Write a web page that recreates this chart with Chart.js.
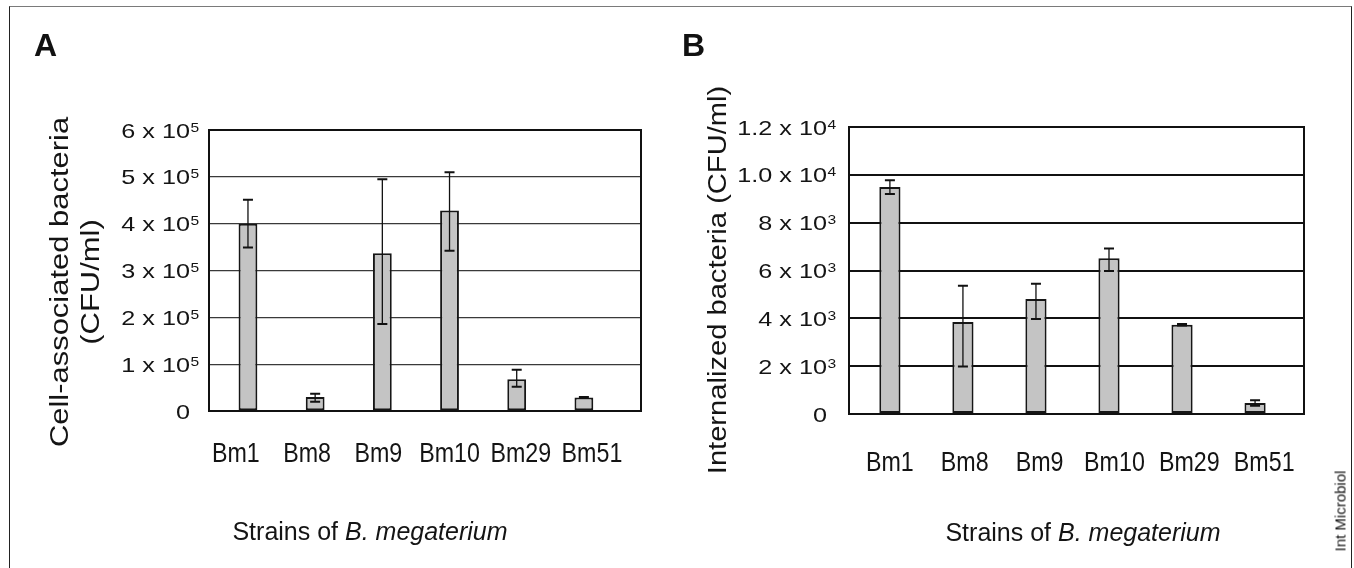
<!DOCTYPE html>
<html lang="en">
<head>
<meta charset="UTF-8" />
<title>Strains of B. megaterium</title>
<script src="https://cdn.jsdelivr.net/npm/chart.js@4.4.1/dist/chart.umd.min.js"></script>
<style>
  html, body { margin: 0; padding: 0; background: #fff; }
  body {
    width: 1354px; height: 568px; position: relative; overflow: hidden;
    font-family: "Liberation Sans", Arial, sans-serif; color: #141414;
  }
  .frame {
    position: absolute; left: 9px; top: 6px; width: 1341px; height: 580px;
    border-top: 1px solid #7a7a7a; border-left: 1px solid #222; border-right: 1px solid #222;
  }
  canvas { position: absolute; top: 0; }
  #chartA { left: 0; }
  #chartB { left: 677px; }
  .letter { position: absolute; font: 900 32px "Liberation Sans", Arial, sans-serif; color: #111; }
  .ytitle {
    position: absolute; white-space: nowrap; text-align: center;
    font-size: 26px; line-height: 31px;
  }
  .ytitle.a { transform: translate(-50%, -50%) rotate(-90deg) scaleX(1.19); }
  .ytitle.b { transform: translate(-50%, -50%) rotate(-90deg) scaleX(1.12); }
  .xtitle {
    position: absolute; white-space: nowrap; font-size: 25px;
    transform: translate(-50%, -50%);
  }
  .credit {
    position: absolute; white-space: nowrap; font-size: 15px;
    transform: translate(-50%, -50%) rotate(-90deg);
  }
</style>
</head>
<body>
<div class="frame"></div>
<canvas id="chartA" width="677" height="568"></canvas>
<canvas id="chartB" width="677" height="568"></canvas>

<div class="letter" style="left:34px; top:27px;">A</div>
<div class="letter" style="left:682px; top:27px;">B</div>

<div class="ytitle a" style="left:75px; top:282px;">Cell-associated bacteria<br>(CFU/ml)</div>
<div class="ytitle b" style="left:717px; top:280px;">Internalized bacteria (CFU/ml)</div>

<div class="xtitle" style="left:370px; top:531px;">Strains of <i>B. megaterium</i></div>
<div class="xtitle" style="left:1083px; top:532px;">Strains of <i>B. megaterium</i></div>

<div class="credit" style="left:1340px; top:511px;">Int Microbiol</div>

<script>
// panel A: cell-associated bacteria (CFU/ml)
const strainsA = ['Bm1', 'Bm8', 'Bm9', 'Bm10', 'Bm29', 'Bm51'];
const meansA = [400000, 30000, 337000, 428000, 68000, 29000];
const errUpA = [51000, 7000, 158000, 82000, 20000, 1000];
const errDownA = [51000, 10000, 151000, 86000, 16000, 1000];
const yTicksA = ['0', '1 x 10^5', '2 x 10^5', '3 x 10^5', '4 x 10^5', '5 x 10^5', '6 x 10^5'];

// panel B: internalized bacteria (CFU/ml)
const strainsB = ['Bm1', 'Bm8', 'Bm9', 'Bm10', 'Bm29', 'Bm51'];
const meansB = [9490, 3850, 4810, 6510, 3730, 460];
const errUpB = [280, 1510, 640, 410, 30, 110];
const errDownB = [290, 1860, 840, 530, 30, 110];
const yTicksB = ['0', '2 x 10^3', '4 x 10^3', '6 x 10^3', '8 x 10^3', '1.0 x 10^4', '1.2 x 10^4'];

// error bars, frame, y tick labels with superscripts, strain labels
const panelDecor = {
  id: 'panelDecor',
  afterDatasetsDraw(chart, args, o) {
    const { ctx, chartArea: a, scales: { x, y } } = chart;
    ctx.save();
    ctx.strokeStyle = '#111';
    o.means.forEach((m, i) => {
      const px = x.getPixelForValue(i);
      const yt = y.getPixelForValue(m + o.up[i]);
      const yb = y.getPixelForValue(m - o.down[i]);
      ctx.lineWidth = 1.3;
      ctx.beginPath();
      ctx.moveTo(px, yt); ctx.lineTo(px, yb);
      ctx.stroke();
      ctx.lineWidth = 2;
      ctx.beginPath();
      ctx.moveTo(px - 5, yt); ctx.lineTo(px + 5, yt);
      ctx.moveTo(px - 5, yb); ctx.lineTo(px + 5, yb);
      ctx.stroke();
    });

    ctx.lineWidth = 2;
    ctx.strokeRect(a.left, a.top, a.width, a.height);

    ctx.fillStyle = '#141414';
    y.ticks.forEach((t, i) => {
      const [base, sup] = o.yLabels[i].split('^');
      const py = y.getPixelForValue(t.value);
      ctx.save();
      ctx.translate(a.left - o.tickGap, py);
      ctx.scale(1.2, 1);
      ctx.textBaseline = 'alphabetic';
      ctx.textAlign = 'right';
      ctx.font = '21px "Liberation Sans", Arial, sans-serif';
      ctx.fillText(base, 0, 7.5);
      if (sup) {
        ctx.textAlign = 'left';
        ctx.font = '13px "Liberation Sans", Arial, sans-serif';
        ctx.fillText(sup, 0.5, 1.5);
      }
      ctx.restore();
    });

    // strain names sit a little off the bar centres in the original figure
    o.strains.forEach((s, i) => {
      ctx.save();
      ctx.translate(x.getPixelForValue(i * o.labelSpread + o.labelShift), a.bottom + o.labelDrop);
      ctx.scale(0.83, 1);
      ctx.textAlign = 'center';
      ctx.textBaseline = 'alphabetic';
      ctx.font = '28px "Liberation Sans", Arial, sans-serif';
      ctx.fillText(s, 0, 10);
      ctx.restore();
    });
    ctx.restore();
  }
};

function makePanel(id, strains, means, up, down, yLabels, cfg) {
  return new Chart(document.getElementById(id), {
    type: 'bar',
    data: {
      datasets: [{
        data: means.map((v, i) => ({ x: i, y: v })),
        backgroundColor: '#c4c4c4',
        borderColor: '#161616',
        borderWidth: 2,
        borderSkipped: false,
        categoryPercentage: 1,
        barPercentage: cfg.barPct
      }]
    },
    options: {
      responsive: false,
      animation: false,
      devicePixelRatio: 1,
      layout: { padding: cfg.padding },
      scales: {
        x: {
          type: 'linear',
          offset: false,
          min: cfg.xMin,
          max: cfg.xMax,
          afterBuildTicks: (s) => { s.ticks = strains.map((_, i) => ({ value: i })); },
          grid: { display: false, drawTicks: false },
          border: { display: false },
          ticks: { display: false }
        },
        y: {
          min: 0,
          max: cfg.yMax,
          ticks: { display: false, stepSize: cfg.yStep },
          grid: { color: cfg.gridColor, lineWidth: cfg.gridWidth, drawTicks: false },
          border: { display: false }
        }
      },
      plugins: {
        legend: { display: false },
        tooltip: { enabled: false },
        panelDecor: {
          strains, means, up, down, yLabels,
          tickGap: cfg.tickGap, labelDrop: cfg.labelDrop,
          labelSpread: cfg.labelSpread, labelShift: cfg.labelShift
        }
      }
    },
    plugins: [panelDecor]
  });
}

makePanel('chartA', strainsA, meansA, errUpA, errDownA, yTicksA, {
  padding: { left: 209, top: 130, right: 36, bottom: 157 },
  xMin: -0.58, xMax: 5.85, barPct: 0.28,
  yMax: 600000, yStep: 100000,
  gridColor: '#3a3a3a', gridWidth: 1.3,
  tickGap: 19, labelDrop: 41, labelSpread: 1.06, labelShift: -0.18
});

makePanel('chartB', strainsB, meansB, errUpB, errDownB, yTicksB, {
  padding: { left: 172, top: 127, right: 50, bottom: 154 },
  xMin: -0.56, xMax: 5.67, barPct: 0.29,
  yMax: 12000, yStep: 2000,
  gridColor: '#111', gridWidth: 2,
  tickGap: 22, labelDrop: 47, labelSpread: 1.025, labelShift: 0
});
</script>
</body>
</html>
